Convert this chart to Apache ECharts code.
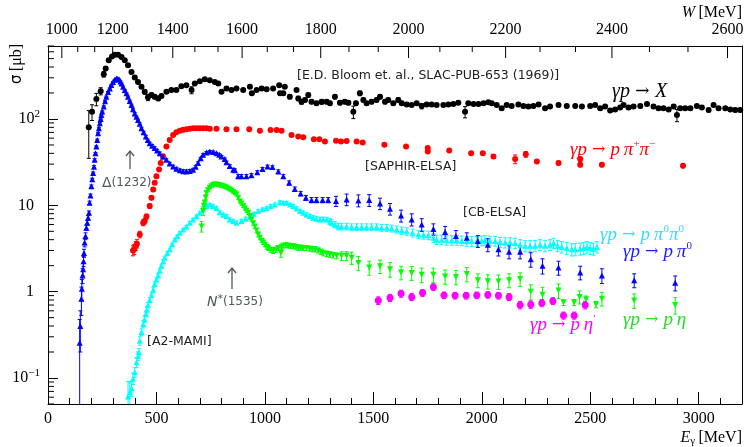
<!DOCTYPE html>
<html><head><meta charset="utf-8">
<script src="https://cdn.jsdelivr.net/npm/echarts@6/dist/echarts.min.js"></script>
<style>html,body{margin:0;padding:0;background:#fff}#c{width:745px;height:447px}</style>
</head><body><div id="c"></div>
<script>
// ---------------- DATA: [E_gamma (MeV), sigma (microbarn), error] ----------------
const totalXS = [[188,80,45],[203,121,25],[223,170,28],[243,210,20],[257,330,25],[266,384,20],[280,478,20],[295,530,15],[308,556,15],[323,556,15],[339,523,15],[354,478,15],[369,419,12],[385,350,12],[400,302,12],[415,268,10],[431,236,10],[446,206,12],[461,178,15],[477,189,10],[492,181,10],[508,173,10],[523,184,8],[546,206,8],[569,216,8],[592,216,8],[615,240,8],[638,246,8],[662,216,20],[677,257,8],[700,274,8],[723,289,8],[746,281,8],[769,268,8],[785,257,8],[800,206,8],[823,225,8],[846,216,8],[869,225,8],[900,216,8],[931,236,10],[940,198,8],[962,216,8],[985,225,8],[1008,221,8],[1038,225,8],[1066,246,8],[1070,198,8],[1085,198,8],[1092,236,8],[1115,181,10],[1146,216,8],[1154,173,10],[1169,158,10],[1185,166,8],[1200,189,10],[1215,158,8],[1238,152,8],[1262,158,10],[1285,158,8],[1300,152,8],[1323,181,10],[1346,154,8],[1369,158,8],[1385,154,8],[1408,121,20],[1420,152,8],[1438,198,12],[1454,166,8],[1469,152,8],[1492,158,8],[1515,166,8],[1531,181,10],[1554,158,8],[1569,166,8],[1592,152,8],[1615,166,10],[1631,152,8],[1654,147,6],[1677,145,6],[1700,152,6],[1723,141,10],[1746,147,6],[1769,147,6],[1792,145,6],[1823,145,6],[1846,147,6],[1869,149,6],[1892,154,6],[1923,121,18],[1938,152,6],[1962,149,6],[1985,149,6],[2008,152,6],[2030,156,6],[2046,152,6],[2069,145,6],[2092,133,6],[2115,145,6],[2138,141,6],[2169,147,6],[2192,141,6],[2215,139,6],[2238,141,6],[2262,147,6],[2292,133,6],[2315,139,6],[2354,145,6],[2392,141,6],[2431,141,6],[2462,139,6],[2500,141,6],[2523,145,6],[2546,133,6],[2569,139,6],[2592,125,6],[2615,129,6],[2638,136,6],[2654,145,6],[2677,136,6],[2700,139,6],[2731,141,6],[2762,149,6],[2792,139,6],[2815,133,6],[2838,133,6],[2862,129,6],[2885,139,6],[2900,111,18],[2915,133,6],[2938,133,6],[2962,133,6],[2992,141,6],[3015,136,6],[3046,127,6],[3069,145,6],[3092,133,6],[3123,133,6],[3146,129,6],[3169,127,6],[3192,127,6]];

const pPipPim = [[392,3.0,0.4],[397,3.1,0.4],[405,3.4,0.4],[410,3.6,0.4],[423,4.6,0.4],[439,6.3,0.5],[446,6.6,0.5],[454,7.4,0.5],[469,9.8,0.6],[477,12.2,0.6],[485,15.2,0.7],[492,18.2,0.8],[500,21.7,0.9],[512,26,1],[520,31,1],[530,37,1],[546,48,1.5],[561,57,1.5],[577,65,1.5],[592,70,1.5],[608,73,1.5],[623,75,1.5],[638,76,1.5],[654,77,1.5],[669,78,1.5],[685,78,1.5],[700,78,1.5],[715,78,1.5],[731,78,1.5],[746,77,1.5],[777,77,1.5],[823,76,1.5],[869,76,1.5],[928,76,1.5],[977,73,1.5],[1026,74.7,1.5],[1054,74.7,1.5],[1077,73,1.5],[1123,65.4,1.5],[1154,62.6,1.5],[1177,61.5,1.5],[1226,58.3,1.5],[1251,58.3,1.5],[1277,54.8,1.5],[1328,56,1.5],[1351,54.8,1.5],[1377,55.7,1.5],[1423,54.8,1.5],[1451,53.3,1.5],[1551,50.2,1.5],[1651,48,1.5],[1751,46,1.5],[1751,42,1.5],[1850,43,1.5],[1951,40,1.5],[2005,40,1.5],[2054,36.8,1.5],[2154,34.3,4],[2203,39,3],[2254,32.2,1.5],[2354,30.9,1.5],[2454,34.3,2],[2454,29.5,1.5],[2554,29.5,1.5],[2928,28.7,1.5]];

const pPi0 = [[146,0.256,0.22],[149,0.40,0.2],[154,0.83,0.3],[156,1.08,0.3],[159,1.54,0.3],[162,1.82,0.3],[164,2.25,0.3],[166,2.8,0.3],[169,3.7,0.4],[173,4.4,0.4],[177,5.5,0.4],[181,6.3,0.4],[185,7.2,0.4],[189,8.2,0.4],[192,10.7,0.5],[196,13,0.5],[200,16.6,0.6],[204,20,0.6],[208,23.7,0.6],[212,28,0.8],[215,33.7,1],[219,40,1],[223,48,1],[227,57,1.5],[231,68.4,1.5],[235,78,2],[239,89,2],[243,100,2],[246,111,2],[250,122,2],[257,139,3],[263,160,3],[269,181,3],[277,205,3],[285,225,3],[292,248,4],[300,268,4],[308,285,4],[316,294,4],[322,292,4],[328,286,4],[334,272,4],[339,257,4],[346,236,4],[354,216,4],[362,198,3],[369,181,3],[377,162,3],[385,145,3],[392,130,3],[400,116,3],[408,106,2],[415,97.4,2],[423,88,2],[431,78,2],[441,70,2],[451,62.6,2],[460,57,1.5],[469,52.5,1.5],[480,49,1.5],[492,46,1.5],[503,43,1.5],[515,40,1.5],[530,36.5,1],[546,33.7,1],[561,30.5,1],[577,28.2,1],[592,26.5,1],[608,25.4,1],[623,24.8,1],[638,24.7,1],[654,25,1],[669,25.8,1],[681,28,1],[692,30.9,1],[704,35,1],[715,38.6,1],[731,41,1],[746,42,1],[762,41.5,1],[777,40,1],[790,38.5,1],[800,36.8,1],[815,34.3,1],[823,31.5,1],[838,28.5,1],[854,25.8,1],[862,25.4,1],[877,21.7,1],[892,21.7,1],[915,21.7,1],[938,22.3,1],[965,24.2,1],[989,26.4,1],[1012,28.2,1],[1035,27.7,1],[1062,24.7,1],[1085,21.7,1],[1112,18.2,1],[1138,15.5,0.8],[1165,13.7,0.8],[1189,12.2,0.8],[1215,11.5,0.8],[1238,11.5,0.8],[1266,11.5,0.8],[1292,11.5,0.8],[1328,11.2,1.5],[1377,11.7,1.8],[1431,11.4,1.8],[1481,11.5,1.8],[1531,10.5,1.6],[1577,9.1,1.4],[1628,7.6,1.2],[1677,6.86,1.1],[1723,6.0,1.0],[1777,5.3,0.8],[1831,4.9,0.8],[1881,4.4,0.7],[1931,4.2,0.6],[1982,3.85,0.6],[2028,3.5,0.6],[2077,3.09,0.5],[2126,2.9,0.5],[2177,2.9,0.5],[2226,2.37,0.45],[2280,2.0,0.4],[2354,1.9,0.35],[2454,1.67,0.3],[2554,1.54,0.3],[2703,1.36,0.25],[2892,1.27,0.25]];

const pPi0Pi0 = [[369,0.061,0.03],[377,0.068,0.02],[385,0.076,0.015],[392,0.099,0.015],[400,0.117,0.015],[408,0.152,0.02],[415,0.18,0.02],[419,0.2,0.02],[423,0.27,0.03],[431,0.34,0.03],[439,0.42,0.04],[445,0.48,0.04],[451,0.55,0.04],[456,0.62,0.05],[461,0.70,0.05],[469,0.80,0.05],[477,0.91,0.05],[485,1.05,0.06],[492,1.23,0.06],[500,1.38,0.07],[508,1.54,0.07],[515,1.75,0.08],[523,2.0,0.08],[531,2.25,0.1],[538,2.47,0.1],[550,2.8,0.1],[562,3.09,0.1],[573,3.55,0.1],[585,4.03,0.1],[596,4.4,0.15],[608,4.8,0.15],[623,5.25,0.15],[638,5.7,0.15],[654,6.3,0.2],[669,6.86,0.2],[685,7.5,0.2],[700,8.2,0.2],[715,9.0,0.3],[731,9.8,0.3],[746,10.2,0.3],[761,9.8,0.3],[777,9.3,0.3],[792,8.3,0.3],[808,7.8,0.3],[823,7.5,0.3],[838,6.86,0.3],[854,6.6,0.3],[869,6.3,0.3],[892,6.6,0.3],[911,7.0,0.3],[931,7.3,0.3],[950,8.0,0.3],[969,8.6,0.3],[989,9.0,0.3],[1008,9.3,0.3],[1027,9.8,0.4],[1046,10.2,0.4],[1069,10.9,0.4],[1085,10.7,0.4],[1100,10.7,0.4],[1116,10.2,0.4],[1131,9.8,0.4],[1146,9.2,0.4],[1162,8.6,0.4],[1177,8.2,0.4],[1192,7.8,0.4],[1208,7.5,0.4],[1223,7.2,0.4],[1238,7.0,0.4],[1254,6.86,0.4],[1269,6.9,0.4],[1285,6.86,0.4],[1300,6.5,0.5],[1308,6.3,0.5],[1323,6.0,0.5],[1338,5.7,0.5],[1354,5.7,0.5],[1377,5.7,0.5],[1400,5.6,0.5],[1423,5.6,0.5],[1446,5.6,0.5],[1469,5.6,0.5],[1492,5.6,0.5],[1515,5.6,0.5],[1538,5.5,0.5],[1562,5.5,0.5],[1585,5.4,0.5],[1608,5.26,0.5],[1631,5.1,0.5],[1654,5.0,0.5],[1681,4.8,0.5],[1708,4.6,0.5],[1731,4.55,0.5],[1754,4.5,0.5],[1777,4.2,0.5],[1792,4.03,0.5],[1815,4.0,0.5],[1838,3.95,0.5],[1862,3.95,0.5],[1885,3.95,0.5],[1908,3.9,0.5],[1931,3.85,0.5],[1954,3.85,0.5],[1977,3.85,0.5],[2000,3.9,0.5],[2015,3.95,0.5],[2038,3.9,0.5],[2062,3.85,0.5],[2085,3.75,0.5],[2108,3.7,0.5],[2131,3.7,0.5],[2154,3.65,0.5],[2177,3.5,0.5],[2200,3.4,0.5],[2223,3.4,0.5],[2246,3.4,0.5],[2269,3.5,0.5],[2292,3.4,0.5],[2315,3.5,0.5],[2331,3.65,0.5],[2350,3.4,0.5],[2369,3.3,0.5],[2392,3.2,0.5],[2415,3.09,0.5],[2431,3.1,0.5],[2454,3.14,0.5],[2470,3.2,0.5],[2485,3.3,0.5],[2500,3.2,0.5],[2515,3.14,0.5],[2531,3.3,0.5]];

const pEta = [[708,5.7,0.8],[715,8.6,1.0],[719,9.8,0.8],[723,10.7,0.6],[727,12.3,0.6],[731,13.9,0.6],[738,15,0.6],[746,16,0.6],[754,16.6,0.5],[762,17.2,0.5],[769,17.4,0.5],[777,17.4,0.5],[785,17.2,0.5],[792,17,0.5],[800,16.8,0.5],[808,16.6,0.5],[815,16.3,0.5],[823,16,0.5],[831,15.6,0.5],[838,15.2,0.5],[846,14.8,0.5],[854,14.3,0.5],[862,13.8,0.5],[869,13.3,0.5],[877,12.2,0.5],[885,11.1,0.5],[892,10.5,0.5],[900,9.8,0.4],[908,9.2,0.4],[915,8.7,0.4],[923,8.2,0.4],[931,7.5,0.4],[938,6.86,0.3],[946,6.2,0.3],[954,5.7,0.3],[962,5.1,0.3],[969,4.6,0.3],[977,4.2,0.2],[985,3.9,0.2],[992,3.7,0.2],[1000,3.5,0.2],[1008,3.3,0.2],[1015,3.2,0.2],[1027,3.05,0.2],[1038,2.97,0.2],[1050,3.05,0.2],[1062,3.2,0.2],[1074,2.8,0.3],[1077,3.3,0.2],[1085,3.4,0.2],[1097,3.45,0.2],[1108,3.4,0.2],[1120,3.38,0.2],[1131,3.35,0.2],[1143,3.3,0.2],[1154,3.2,0.2],[1165,3.25,0.2],[1177,3.2,0.2],[1192,3.2,0.2],[1208,3.15,0.2],[1220,3.1,0.2],[1231,3.09,0.2],[1246,3.0,0.2],[1258,2.9,0.2],[1269,2.8,0.2],[1285,2.75,0.2],[1300,2.7,0.2],[1315,2.65,0.2],[1331,2.6,0.2],[1354,2.6,0.3],[1377,2.6,0.3],[1400,2.47,0.4],[1431,2.15,0.4],[1481,1.9,0.35],[1531,1.97,0.35],[1577,1.82,0.35],[1628,1.67,0.3],[1677,1.65,0.3],[1723,1.57,0.3],[1777,1.57,0.3],[1831,1.5,0.28],[1881,1.48,0.28],[1931,1.6,0.3],[1982,1.36,0.25],[2028,1.32,0.25],[2077,1.31,0.25],[2126,1.36,0.25],[2177,1.4,0.25],[2226,1.0,0.2],[2280,0.92,0.2],[2354,1.03,0.2],[2377,0.75,0.06],[2426,0.75,0.06],[2451,0.87,0.15],[2481,0.81,0.08],[2527,0.71,0.06],[2554,0.83,0.15],[2703,0.79,0.15],[2892,0.70,0.15]];

const pEtaPrime = [[1523,0.79,0.08],[1577,0.85,0.08],[1628,0.95,0.09],[1677,0.87,0.08],[1727,0.97,0.09],[1777,1.13,0.1],[1826,0.91,0.08],[1877,0.9,0.08],[1928,0.9,0.08],[1977,0.91,0.08],[2028,0.92,0.08],[2077,0.9,0.08],[2126,0.87,0.08],[2177,0.70,0.07],[2226,0.71,0.07],[2277,0.74,0.07],[2328,0.78,0.07],[2377,0.53,0.05],[2426,0.53,0.05],[2477,0.70,0.07]];

// Top axis: invariant mass W tick values (MeV)
const wMajorTicks = [1000,1200,1400,1600,1800,2000,2200,2400,2600];
// Axis ranges / ticks
const X_MIN = 0, X_MAX = 3200, X_MAJOR = 500, X_MINOR = 100;
const Y_MIN = 0.05, Y_MAX = 700;
const MP = 938.27;

// ---------------- helpers ----------------
const wTicks = [];
for (let i = 0; i < wMajorTicks.length; i++) {
  const w = wMajorTicks[i];
  wTicks.push([w, Y_MAX, 1]);
  if (i < wMajorTicks.length - 1) {
    wTicks.push([w + 200/3, Y_MAX, 0]);
    wTicks.push([w + 400/3, Y_MAX, 0]);
  }
}
const yMinorTicks = [];
for (let e = -2; e <= 2; e++) {
  for (let m = 2; m <= 9; m++) {
    const v = m * Math.pow(10, e);
    if (v >= Y_MIN - 1e-9 && v <= Y_MAX + 1e-9) yMinorTicks.push([X_MIN, v]);
  }
}

const SERIF = 'Liberation Serif';
const SANS = 'DejaVu Sans';

function errSeries(data, color) {
  return {
    type: 'custom', data: data, clip: true, silent: true, z: 3,
    renderItem: function (params, api) {
      const E = api.value(0), s = api.value(1), e = api.value(2);
      if (!e) return null;
      const hi = api.coord([E, s + e]);
      const lo = api.coord([E, Math.max(s - e, Y_MIN * 0.5)]);
      const st = { stroke: color, lineWidth: 1 };
      return { type: 'group', children: [
        { type: 'line', shape: { x1: hi[0], y1: hi[1], x2: lo[0], y2: lo[1] }, style: st },
        { type: 'line', shape: { x1: hi[0] - 2, y1: hi[1], x2: hi[0] + 2, y2: hi[1] }, style: st },
        { type: 'line', shape: { x1: lo[0] - 2, y1: lo[1], x2: lo[0] + 2, y2: lo[1] }, style: st }
      ]};
    }
  };
}
function markSeries(data, color, symbol, size, rotate) {
  return {
    type: 'scatter', data: data.map(d => [d[0], d[1]]), symbol: symbol, symbolSize: size,
    symbolRotate: rotate || 0, itemStyle: { color: color, opacity: 1 }, silent: true, z: 4,
    emphasis: { disabled: true }
  };
}

function mathRich(color, size) {
  return {
    i: { fontFamily: SERIF, fontStyle: 'italic', fontSize: size, fill: color, color: color, lineHeight: size + 4 },
    r: { fontFamily: 'DejaVu Serif', fontSize: Math.round(size * 0.85), fill: color, color: color, lineHeight: size + 4 },
    s: { fontFamily: SERIF, fontSize: Math.round(size * 0.6), fill: color, color: color, verticalAlign: 'top', lineHeight: Math.round(size * 0.6) }
  };
}
function txt(x, y, text, rich, fill, font, size) {
  return { type: 'text', x: x, y: y, z: 100, silent: true,
    style: { text: text, rich: rich, fill: fill, fontFamily: font, fontSize: size,
      align: 'left', verticalAlign: 'middle', textAlign: 'left', textVerticalAlign: 'middle' } };
}
const GRAY = '#4d5959';

const chart = echarts.init(document.getElementById('c'), null, { renderer: 'canvas' });
const axisLineStyle = { color: '#000', width: 1 };

chart.setOption({
  animation: false,
  backgroundColor: '#fff',
  grid: { left: 48, right: 3, top: 46, bottom: 43, containLabel: false, outerBoundsMode: 'none' },
  xAxis: [
    { type: 'value', min: X_MIN, max: X_MAX, interval: X_MAJOR, position: 'bottom',
      axisLine: { show: true, onZero: false, lineStyle: axisLineStyle },
      axisTick: { show: true, inside: true, length: 12, lineStyle: axisLineStyle },
      axisLabel: { show: true, margin: 7, color: '#000', fontFamily: SERIF, fontSize: 16, showMaxLabel: false, hideOverlap: false,
        formatter: function (v) { return String(v); } },
      splitLine: { show: false } },
    { type: 'value', min: X_MIN, max: X_MAX, interval: X_MINOR, position: 'bottom',
      axisLine: { show: false, onZero: false },
      axisTick: { show: true, inside: true, length: 6, lineStyle: axisLineStyle },
      axisLabel: { show: false }, splitLine: { show: false } },
    { type: 'value', min: X_MIN, max: X_MAX, position: 'top',
      axisLine: { show: true, onZero: false, lineStyle: axisLineStyle },
      axisTick: { show: false }, axisLabel: { show: false }, splitLine: { show: false } }
  ],
  yAxis: [
    { type: 'log', logBase: 10, min: Y_MIN, max: Y_MAX, position: 'left',
      axisLine: { show: true, onZero: false, lineStyle: axisLineStyle },
      axisTick: { show: true, inside: true, length: 10, lineStyle: axisLineStyle },
      axisLabel: { show: true, margin: 8, color: '#000', fontFamily: SERIF, fontSize: 16, showMinLabel: true, showMaxLabel: true,
        formatter: function (v) {
          const e = Math.round(Math.log10(v));
          if (Math.abs(v / Math.pow(10, e) - 1) > 1e-6) return '';
          if (e === 0) return '{b|1}{p|}';
          if (e === 1) return '{b|10}{p|}';
          return '{b|10}{s|' + (e < 0 ? '\u2212' + (-e) : e) + '}';
        },
        rich: {
          b: { fontFamily: SERIF, fontSize: 16, color: '#000', lineHeight: 20 },
          s: { fontFamily: SERIF, fontSize: 11, color: '#000', verticalAlign: 'top', lineHeight: 11 },
          p: { width: 6 }
        } },
      splitLine: { show: false } },
    { type: 'log', logBase: 10, min: Y_MIN, max: Y_MAX, position: 'right',
      axisLine: { show: true, onZero: false, lineStyle: axisLineStyle },
      axisTick: { show: false }, axisLabel: { show: false }, splitLine: { show: false } }
  ],
  series: [
    // minor log ticks on y axis
    { type: 'custom', data: yMinorTicks, silent: true, z: 5, clip: false,
      renderItem: function (params, api) {
        const p = api.coord([api.value(0), api.value(1)]);
        return { type: 'line', shape: { x1: p[0], y1: p[1], x2: p[0] + 6, y2: p[1] }, style: { stroke: '#000', lineWidth: 1 } };
      } },
    // top W axis ticks and labels
    { type: 'custom', data: wTicks, silent: true, z: 5, clip: false,
      renderItem: function (params, api) {
        const W = api.value(0), major = api.value(2) === 1;
        const E = (W * W - MP * MP) / (2 * MP);
        const p = api.coord([E, api.value(1)]);
        const children = [{ type: 'line', shape: { x1: p[0], y1: p[1], x2: p[0], y2: p[1] + (major ? 12 : 6) }, style: { stroke: '#000', lineWidth: 1 } }];
        if (major) children.push({ type: 'text', x: p[0], y: p[1] - 8,
          style: { text: String(W), fill: '#000', fontFamily: SERIF, fontSize: 16, align: 'center', verticalAlign: 'bottom', textAlign: 'center', textVerticalAlign: 'bottom' } });
        return { type: 'group', children: children };
      } },
    errSeries(totalXS, '#000'), markSeries(totalXS, '#000', 'circle', 6),
    errSeries(pPipPim, '#ff0000'), markSeries(pPipPim, '#ff0000', 'circle', 6),
    errSeries(pPi0Pi0, '#00ffff'), markSeries(pPi0Pi0, '#00ffff', 'triangle', 6),
    errSeries(pPi0, '#0000ff'), markSeries(pPi0, '#0000ff', 'triangle', 6),
    errSeries(pEta, '#00ff00'), markSeries(pEta, '#00ff00', 'triangle', 6, 180),
    errSeries(pEtaPrime, '#ff00ff'), markSeries(pEtaPrime, '#ff00ff', 'circle', 7)
  ],
  graphic: [
    // axis titles
    { type: 'text', x: 17, y: 64, rotation: Math.PI / 2, z: 100, silent: true,
      style: { text: '{a|\u03c3} {b|[\u03bcb]}', align: 'center', verticalAlign: 'middle', textAlign: 'center', textVerticalAlign: 'middle',
        rich: { a: { fontFamily: SANS, fontSize: 15, fill: '#000' }, b: { fontFamily: SERIF, fontSize: 16, fill: '#000' } } } },
    { type: 'text', x: 742, y: 13, z: 100, silent: true,
      style: { text: '{i|W} {b|[MeV]}', align: 'right', verticalAlign: 'middle', textAlign: 'right', textVerticalAlign: 'middle',
        rich: { i: { fontFamily: SERIF, fontStyle: 'italic', fontSize: 16, fill: '#000' }, b: { fontFamily: SERIF, fontSize: 16, fill: '#000' } } } },
    { type: 'text', x: 742, y: 438, z: 100, silent: true,
      style: { text: '{i|E}{s|\u03b3} {b|[MeV]}', align: 'right', verticalAlign: 'middle', textAlign: 'right', textVerticalAlign: 'middle',
        rich: { i: { fontFamily: SERIF, fontStyle: 'italic', fontSize: 16, fill: '#000', lineHeight: 18 },
                s: { fontFamily: SERIF, fontSize: 11, fill: '#000', verticalAlign: 'bottom', lineHeight: 12 },
                b: { fontFamily: SERIF, fontSize: 16, fill: '#000', lineHeight: 18 } } } },
    // experiment references
    txt(297, 76, '[E.D. Bloom et. al., SLAC-PUB-653 (1969)]', null, '#222', SANS, 12.5),
    txt(365, 167, '[SAPHIR-ELSA]', null, '#222', SANS, 12.5),
    txt(463, 213, '[CB-ELSA]', null, '#222', SANS, 12.5),
    txt(147, 342, '[A2-MAMI]', null, '#222', SANS, 12.5),
    // reaction labels
    txt(612, 92, '{i|\u03b3p}{r| \u2192 }{i|X}', mathRich('#000', 20), '#000', SERIF, 20),
    txt(570, 150, '{i|\u03b3p}{r| \u2192 }{i|p\u2009\u03c0}{s|+}{i|\u03c0}{s|\u2212}', mathRich('#ff0000', 19), '#ff0000', SERIF, 19),
    txt(600, 235, '{i|\u03b3p}{r| \u2192 }{i|p\u2009\u03c0}{s|0}{i|\u03c0}{s|0}', mathRich('#33ddff', 19), '#33ddff', SERIF, 19),
    txt(623, 252, '{i|\u03b3p}{r| \u2192 }{i|p\u2009\u03c0}{s|0}', mathRich('#1a1aff', 19), '#1a1aff', SERIF, 19),
    txt(623, 320, '{i|\u03b3p}{r| \u2192 }{i|p\u2009\u03b7}', mathRich('#22e022', 19), '#22e022', SERIF, 19),
    txt(530, 325, '{i|\u03b3p}{r| \u2192 }{i|p\u2009\u03b7}{s|\u2032}', mathRich('#ff00ff', 19), '#ff00ff', SERIF, 19),
    // resonance markers
    txt(102, 183, '{a|\u0394}{b|(1232)}', { a: { fontFamily: SANS, fontSize: 14, fill: GRAY }, b: { fontFamily: SANS, fontSize: 12, fill: GRAY } }, GRAY, SANS, 12),
    txt(207, 302, '{a|N}{s|*}{b|(1535)}', { a: { fontFamily: SANS, fontStyle: 'italic', fontSize: 14, fill: GRAY, lineHeight: 16 }, s: { fontFamily: SANS, fontSize: 11, fill: GRAY, verticalAlign: 'top', lineHeight: 10 }, b: { fontFamily: SANS, fontSize: 12, fill: GRAY, lineHeight: 16 } }, GRAY, SANS, 12),
    { type: 'polyline', z: 100, silent: true, shape: { points: [[130, 169], [130, 151]] }, style: { stroke: GRAY, lineWidth: 1.3, fill: null } },
    { type: 'polyline', z: 100, silent: true, shape: { points: [[126, 156], [130, 151], [134, 156]] }, style: { stroke: GRAY, lineWidth: 1.3, fill: null } },
    { type: 'polyline', z: 100, silent: true, shape: { points: [[232, 289], [232, 268]] }, style: { stroke: GRAY, lineWidth: 1.3, fill: null } },
    { type: 'polyline', z: 100, silent: true, shape: { points: [[228, 273], [232, 268], [236, 273]] }, style: { stroke: GRAY, lineWidth: 1.3, fill: null } }
  ]
});
</script>
</body></html>
